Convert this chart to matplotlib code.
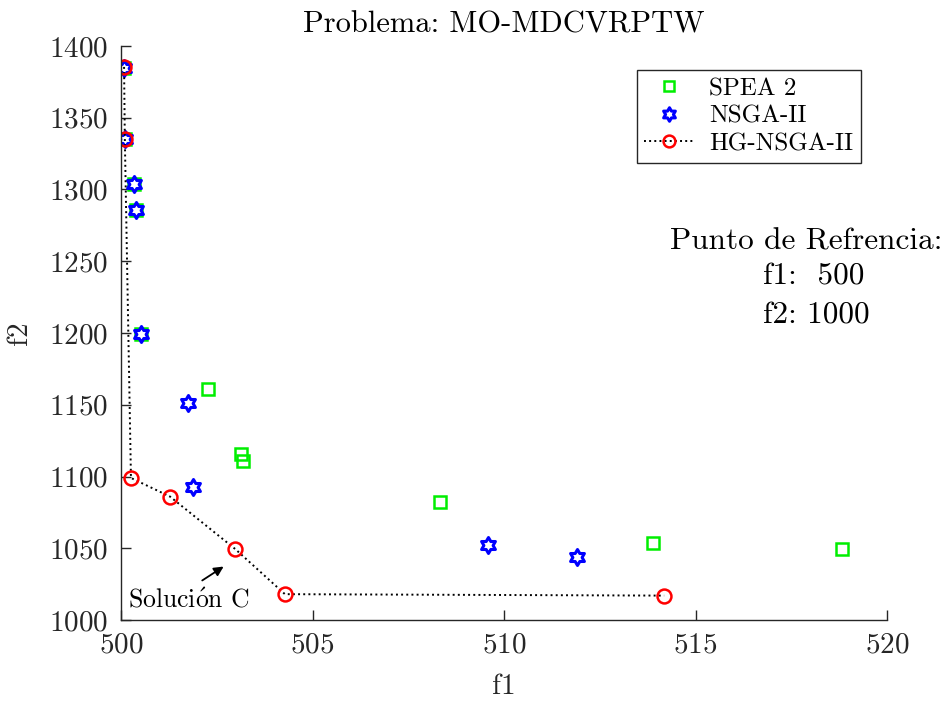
import numpy as np
import matplotlib.pyplot as plt
from matplotlib.path import Path

# Computer Modern look
plt.rcParams['font.family'] = ['cmr10', 'DejaVu Serif']
plt.rcParams['mathtext.fontset'] = 'cm'
plt.rcParams['axes.formatter.use_mathtext'] = True

# data
spea_f1 = [500.08, 500.1, 500.34, 500.39, 500.52, 502.27, 503.13, 503.19, 508.33, 513.9, 518.83]
spea_f2 = [1385, 1335, 1304, 1286, 1199, 1161, 1116, 1111, 1082, 1054, 1049.5]

nsga_f1 = [500.08, 500.1, 500.34, 500.39, 500.52, 501.75, 501.88, 509.58, 511.9]
nsga_f2 = [1385, 1335, 1304, 1286, 1199, 1151, 1093, 1052, 1044]

hg_f1 = [500.08, 500.1, 500.26, 501.28, 502.98, 504.28, 514.18]
hg_f2 = [1385.4, 1335.2, 1099, 1086, 1049.5, 1018, 1017]

xticks = [500, 505, 510, 515, 520]
yticks = [1000, 1050, 1100, 1150, 1200, 1250, 1300, 1350, 1400]

# annotation positions (data coords)
label_pos = (500.18, 1005)
arrow_tail = (502.06, 1026.5)
arrow_head = (502.74, 1038.3)

# hexagram marker (MATLAB 'h')
k = np.arange(12)
ang = np.deg2rad(90 + 30 * k)
rad = np.where(k % 2 == 0, 1.0, 1 / np.sqrt(3))
verts = list(zip(rad * np.cos(ang), rad * np.sin(ang)))
verts.append(verts[0])
hexagram = Path(verts, closed=True)

fig = plt.figure(figsize=(9.49, 7.02), dpi=100)
ax = fig.add_axes([0.1275, 0.1168, 0.8072, 0.8177])

ax.plot(spea_f1, spea_f2, linestyle='none', marker='s', markersize=8.5,
        markerfacecolor='none', markeredgecolor='#00ee00', markeredgewidth=1.8,
        label='SPEA 2')
ax.plot(nsga_f1, nsga_f2, linestyle='none', marker=hexagram, markersize=11.5,
        markerfacecolor='none', markeredgecolor='#0000ff', markeredgewidth=2.2,
        label='NSGA-II')
ax.plot(hg_f1, hg_f2, linestyle=':', color='k', linewidth=1.4, marker='o',
        markersize=10, markerfacecolor='none', markeredgecolor='#ff0000',
        markeredgewidth=1.8, label='HG-NSGA-II')

ax.set_xlim(500, 520)
ax.set_ylim(1000, 1400)
ax.set_xticks(xticks)
ax.set_yticks(yticks)
ax.tick_params(direction='in', length=7, width=1, labelsize=21, colors='#262626',
               labelcolor='#262626', pad=9)
for s in ['top', 'right']:
    ax.spines[s].set_visible(False)
for s in ['left', 'bottom']:
    ax.spines[s].set_color('#262626')
    ax.spines[s].set_linewidth(1.0)

ax.set_xlabel('f1', fontsize=21, color='#262626', labelpad=11)
ax.set_ylabel('f2', fontsize=21, color='#262626', labelpad=12)
ax.set_title('Problema: MO-MDCVRPTW', fontsize=22, pad=10)

ax.legend(loc='upper right', bbox_to_anchor=(0.966, 0.958), borderaxespad=0,
          fontsize=18, frameon=True, fancybox=False, edgecolor='#262626',
          framealpha=1, handlelength=2.0, handletextpad=0.6, labelspacing=0.2,
          borderpad=0.3, markerscale=0.85)

ax.text(0.7167, 0.6585, 'Punto de Refrencia:', transform=ax.transAxes,
        fontsize=22.5, va='center', ha='left')
ax.text(0.838, 0.599, 'f1:  500', transform=ax.transAxes,
        fontsize=22.5, va='center', ha='left')
ax.text(0.838, 0.5296, 'f2: 1000', transform=ax.transAxes,
        fontsize=22.5, va='center', ha='left')

ax.text(label_pos[0], label_pos[1], r'Soluci$\acute{\mathrm{o}}$n C', fontsize=18.5,
        ha='left', va='bottom')
ax.annotate('', xy=arrow_head, xytext=arrow_tail,
            arrowprops=dict(arrowstyle='-|>', color='k', lw=1.3, mutation_scale=14))

fig.savefig('out.png', dpi=100)
